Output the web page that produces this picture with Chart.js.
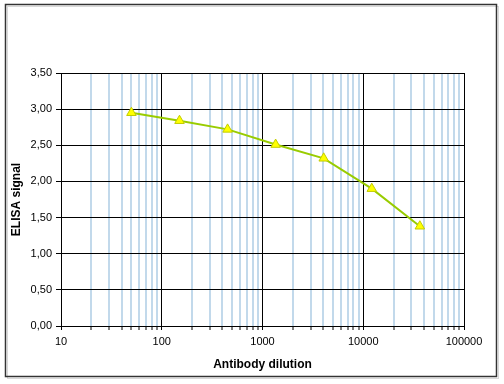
<!DOCTYPE html>
<html>
<head>
<meta charset="utf-8">
<script src="https://cdn.jsdelivr.net/npm/chart.js@4"></script>
<style>
  html, body { margin: 0; padding: 0; background: #fff; }
  #wrap { width: 504px; height: 384px; position: relative; }
</style>
</head>
<body>
<div id="wrap"><canvas id="c" width="504" height="384"></canvas></div>
<script>
const dilutions = [50, 150, 450, 1350, 4050, 12150, 36450];
const elisaSignal = [2.95, 2.84, 2.72, 2.51, 2.32, 1.90, 1.38];
const xDecades = [10, 100, 1000, 10000, 100000];
const xTickLabels = ['10', '100', '1000', '10000', '100000'];
const yTicks = [0, 0.5, 1, 1.5, 2, 2.5, 3, 3.5];

const xTickValues = [];
for (let d = 0; d < xDecades.length - 1; d++) {
  for (let s = 1; s < 10; s++) xTickValues.push(xDecades[d] * s);
}
xTickValues.push(xDecades[xDecades.length - 1]);
const isDecade = v => xDecades.some(d => Math.abs(d - v) < 1e-6);

const frame = {
  id: 'frame',
  afterDraw(chart) {
    const ctx = chart.ctx;
    ctx.save();
    ctx.strokeStyle = '#d8d8d8';
    ctx.lineWidth = 1;
    ctx.strokeRect(7.5, 6.5, 491, 372);
    ctx.strokeStyle = '#333';
    ctx.lineWidth = 1.5;
    ctx.strokeRect(5.5, 4.5, 491, 372);
    ctx.restore();
  }
};

const font = { family: '"Liberation Sans", Arial, sans-serif', size: 11 };

new Chart(document.getElementById('c'), {
  type: 'line',
  data: {
    datasets: [{
      data: dilutions.map((x, i) => ({ x, y: elisaSignal[i] })),
      borderColor: '#99cc00',
      borderWidth: 2,
      backgroundColor: '#ffff00',
      pointStyle: 'triangle',
      pointRadius: 5.5,
      pointBorderColor: '#c2cc00',
      pointBorderWidth: 1,
      tension: 0
    }]
  },
  options: {
    responsive: false,
    animation: false,
    layout: { padding: { left: 5, right: 40, top: 73, bottom: 8 } },
    plugins: { legend: { display: false }, tooltip: { enabled: false } },
    scales: {
      x: {
        type: 'logarithmic',
        min: 10,
        max: 100000,
        afterBuildTicks(scale) {
          scale.ticks = xTickValues.map(v => ({ value: v }));
        },
        afterFit(scale) { scale.height = 50; },
        ticks: {
          autoSkip: false,
          maxRotation: 0,
          padding: 5,
          color: '#000',
          font,
          callback(value) {
            const i = xDecades.findIndex(d => Math.abs(d - value) < 1e-6);
            return i >= 0 ? xTickLabels[i] : '';
          }
        },
        grid: {
          color: c => (c.tick && isDecade(c.tick.value)) ? '#000' : '#c2d9eb',
          lineWidth: c => (c.tick && isDecade(c.tick.value)) ? 1 : 2,
          tickColor: '#000',
          tickWidth: 1,
          tickLength: 4
        },
        border: { color: '#000', width: 1 },
        title: {
          display: true,
          text: 'Antibody dilution',
          color: '#000',
          font: { family: font.family, size: 12, weight: 'bold' },
          padding: { top: 2, bottom: 4 }
        }
      },
      y: {
        min: 0,
        max: 3.5,
        afterBuildTicks(scale) {
          scale.ticks = yTicks.map(v => ({ value: v }));
        },
        afterFit(scale) { scale.width = 56; },
        ticks: {
          color: '#000',
          font,
          padding: 4,
          callback: v => Number(v).toFixed(2).replace('.', ',')
        },
        grid: {
          color: '#000',
          lineWidth: 1,
          tickColor: '#000',
          tickLength: 5
        },
        border: { color: '#000', width: 1 },
        title: {
          display: true,
          text: 'ELISA signal',
          color: '#000',
          font: { family: font.family, size: 12, weight: 'bold' },
          padding: { top: 4, bottom: 0 }
        }
      }
    }
  },
  plugins: [frame]
});
</script>
</body>
</html>
